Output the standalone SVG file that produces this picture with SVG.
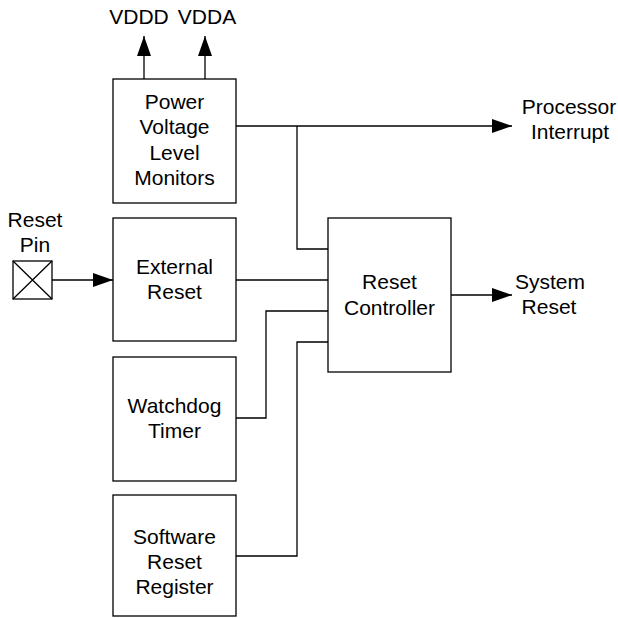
<svg xmlns="http://www.w3.org/2000/svg" width="618" height="618" viewBox="0 0 618 618">
<style>
.box{fill:#fff;stroke:#000;stroke-width:1.3}
.ln{fill:none;stroke:#000;stroke-width:1.3}
text{font-family:"Liberation Sans",Arial,sans-serif;font-size:21px;fill:#000;text-anchor:middle}
</style>
<defs>
<marker id="arr" markerUnits="userSpaceOnUse" markerWidth="20" markerHeight="14" refX="20" refY="7" orient="auto" viewBox="0 0 20 14">
<path d="M0,0 L20,7 L0,14 z" fill="#000"/>
</marker>
</defs>
<rect width="618" height="618" fill="#fff"/>
<g id="connectors">
<path class="ln" d="M144 79 V36" marker-end="url(#arr)"/>
<path class="ln" d="M205 79 V36" marker-end="url(#arr)"/>
<path class="ln" d="M236 126 H512" marker-end="url(#arr)"/>
<path class="ln" d="M297 126 V249 H328"/>
<path class="ln" d="M236 280 H328"/>
<path class="ln" d="M236 418 H266 V311 H328"/>
<path class="ln" d="M236 556 H297 V342 H328"/>
<path class="ln" d="M451 295 H512" marker-end="url(#arr)"/>
<path class="ln" d="M52 280 H113" marker-end="url(#arr)"/>
</g>
<g id="vddd"><text x="139" y="24">VDDD</text></g>
<g id="vdda"><text x="207" y="24">VDDA</text></g>
<g id="pvlm">
<rect class="box" x="113" y="79" width="123" height="124"/>
<text x="174.5" y="108.5">Power</text>
<text x="174.5" y="134">Voltage</text>
<text x="174.5" y="159.5">Level</text>
<text x="174.5" y="185">Monitors</text>
</g>
<g id="reset-pin">
<text x="35" y="226.5">Reset</text>
<text x="35" y="251.5">Pin</text>
<rect class="box" x="13" y="261" width="39" height="38"/>
<path class="ln" d="M13 261 L52 299 M52 261 L13 299"/>
</g>
<g id="external-reset">
<rect class="box" x="113" y="218" width="123" height="123"/>
<text x="174.5" y="274">External</text>
<text x="174.5" y="299">Reset</text>
</g>
<g id="watchdog">
<rect class="box" x="113" y="357" width="123" height="124"/>
<text x="174.5" y="412.5">Watchdog</text>
<text x="174.5" y="437.5">Timer</text>
</g>
<g id="software-reset">
<rect class="box" x="113" y="495" width="123" height="121"/>
<text x="174.5" y="544">Software</text>
<text x="174.5" y="569">Reset</text>
<text x="174.5" y="594">Register</text>
</g>
<g id="reset-controller">
<rect class="box" x="328" y="218" width="123" height="154"/>
<text x="389.5" y="289">Reset</text>
<text x="389.5" y="315">Controller</text>
</g>
<g id="processor-interrupt">
<text x="569" y="114">Processor</text>
<text x="570" y="139">Interrupt</text>
</g>
<g id="system-reset">
<text x="550" y="288.5">System</text>
<text x="549" y="313.5">Reset</text>
</g>
</svg>
